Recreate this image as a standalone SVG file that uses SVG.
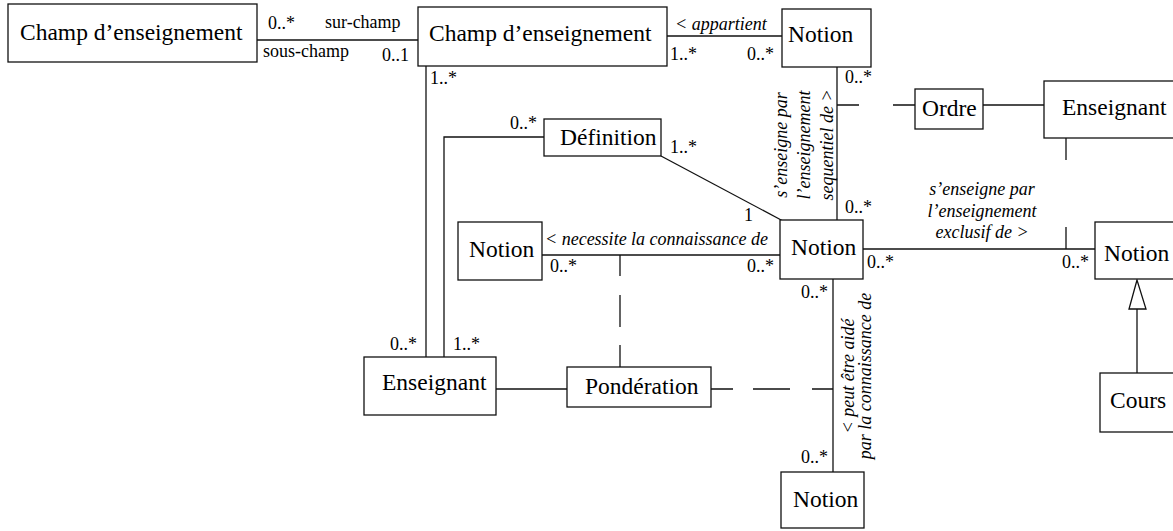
<svg xmlns="http://www.w3.org/2000/svg" width="1173" height="531" viewBox="0 0 1173 531">
<style>
.box{fill:#fff;stroke:#111;stroke-width:1.3}
.ln{fill:none;stroke:#111;stroke-width:1.3}
.nm{font-family:"Liberation Serif","Times New Roman",serif;font-size:23.5px;fill:#000}
.lb{font-family:"Liberation Serif","Times New Roman",serif;font-size:18px;fill:#000}
.it{font-family:"Liberation Serif","Times New Roman",serif;font-size:18px;font-style:italic;fill:#000}
</style>
<rect width="1173" height="531" fill="#fff"/>
<g id="connectors">
<path class="ln" d="M257,40 H418"/>
<path class="ln" d="M667,36 H782"/>
<path class="ln" d="M837,67 V220"/>
<path class="ln" d="M983,105 H1044"/>
<path class="ln" d="M426,66 V357"/>
<path class="ln" d="M444,357 V137 H544"/>
<path class="ln" d="M661,156 L783,221"/>
<path class="ln" d="M542,255 H780"/>
<path class="ln" d="M863,249 H1095"/>
<path class="ln" d="M833,279 V472"/>
<path class="ln" d="M496,389 H567"/>
<path class="ln" d="M1137,373 V309"/>
<polygon class="box" points="1137,280 1129,309 1146,309"/>
<path class="ln" d="M837,105 H859 M893,105 H915"/>
<path class="ln" d="M1066,138 V160 M1066,227 V249"/>
<path class="ln" d="M620,255 V276 M620,295 V327 M620,345 V367"/>
<path class="ln" d="M711,389 H733 M753,389 H790 M812,389 H833"/>
<text class="lb" x="268" y="29">0..*</text>
<text class="lb" x="325" y="28">sur-champ</text>
<text class="lb" x="263" y="57">sous-champ</text>
<text class="lb" x="382" y="61">0..1</text>
<text class="it" x="675" y="30">&lt; appartient</text>
<text class="lb" x="670" y="60">1..*</text>
<text class="lb" x="747" y="60">0..*</text>
<text class="lb" x="430" y="84">1..*</text>
<text class="lb" x="845" y="83">0..*</text>
<text class="lb" x="510" y="129">0..*</text>
<text class="lb" x="670" y="153">1..*</text>
<text class="lb" x="744" y="221">1</text>
<text class="lb" x="845" y="213">0..*</text>
<text class="it" x="545" y="245">&lt; necessite la connaissance de</text>
<text class="lb" x="550" y="272">0..*</text>
<text class="lb" x="747" y="272">0..*</text>
<text class="lb" x="867" y="268">0..*</text>
<text class="lb" x="1062" y="268">0..*</text>
<text class="it" x="982" y="195" text-anchor="middle">s’enseigne par</text>
<text class="it" x="982" y="217" text-anchor="middle">l’enseignement</text>
<text class="it" x="982" y="238" text-anchor="middle">exclusif de &gt;</text>
<g transform="translate(0,145) rotate(-90)" text-anchor="middle">
<text class="it" x="0" y="787">s’enseigne par</text>
<text class="it" x="0" y="810">l’enseignement</text>
<text class="it" x="0" y="833">sequentiel de &gt;</text>
</g>
<g transform="translate(0,376) rotate(-90)" text-anchor="middle">
<text class="it" x="0" y="854">&lt; peut être aidé</text>
<text class="it" x="0" y="871">par la connaissance de</text>
</g>
<text class="lb" x="801" y="298">0..*</text>
<text class="lb" x="801" y="463">0..*</text>
<text class="lb" x="390" y="350">0..*</text>
<text class="lb" x="453" y="350">1..*</text>
</g>
<g id="champ1"><rect class="box" x="8" y="4" width="249" height="58"/><text class="nm" x="20" y="40">Champ d’enseignement</text></g>
<g id="champ2"><rect class="box" x="418" y="7" width="249" height="59"/><text class="nm" x="429" y="41">Champ d’enseignement</text></g>
<g id="notion-top"><rect class="box" x="782" y="9" width="89" height="58"/><text class="nm" x="788" y="42">Notion</text></g>
<g id="ordre"><rect class="box" x="915" y="89" width="68" height="40"/><text class="nm" x="922" y="116">Ordre</text></g>
<g id="enseignant-top"><rect class="box" x="1044" y="81" width="140" height="57"/><text class="nm" x="1062" y="115">Enseignant</text></g>
<g id="definition"><rect class="box" x="544" y="119" width="117" height="37"/><text class="nm" x="560" y="145">Définition</text></g>
<g id="notion-left"><rect class="box" x="458" y="222" width="84" height="58"/><text class="nm" x="469" y="257">Notion</text></g>
<g id="notion-center"><rect class="box" x="780" y="220" width="83" height="59"/><text class="nm" x="791" y="255">Notion</text></g>
<g id="notion-right"><rect class="box" x="1095" y="222" width="90" height="57"/><text class="nm" x="1104" y="261">Notion</text></g>
<g id="enseignant-bottom"><rect class="box" x="364" y="357" width="132" height="58"/><text class="nm" x="382" y="390">Enseignant</text></g>
<g id="ponderation"><rect class="box" x="567" y="367" width="144" height="40"/><text class="nm" x="585" y="394">Pondération</text></g>
<g id="notion-bottom"><rect class="box" x="781" y="472" width="83" height="56"/><text class="nm" x="793" y="507">Notion</text></g>
<g id="cours"><rect class="box" x="1100" y="373" width="85" height="59"/><text class="nm" x="1110" y="408">Cours</text></g>
</svg>
